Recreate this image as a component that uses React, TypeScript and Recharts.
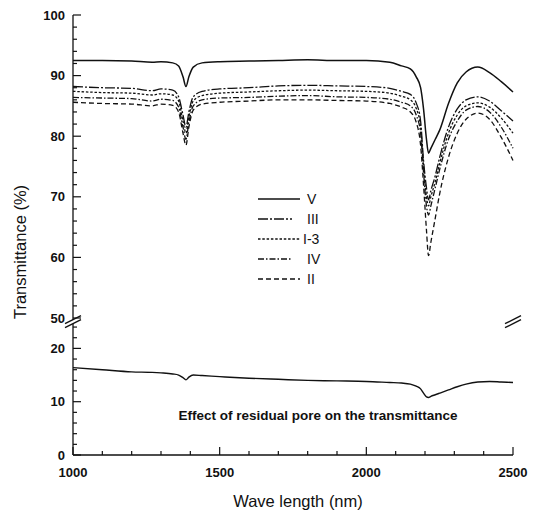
import React from 'react';
import { ComposedChart, Line, XAxis, YAxis, ReferenceDot } from 'recharts';

// ---------- data ----------
const wavelengths = [1000, 1100, 1200, 1270, 1300, 1340, 1360, 1375, 1385, 1395, 1410, 1440, 1500, 1600, 1700, 1800, 1900, 2000, 2080, 2120, 2150, 2170, 2185, 2195, 2205, 2212, 2220, 2235, 2250, 2280, 2310, 2340, 2380, 2420, 2460, 2500];

const seriesV = [92.5, 92.5, 92.4, 92.2, 92.3, 92.1, 91.6, 89.8, 88.2, 89.8, 91.4, 92.1, 92.3, 92.4, 92.5, 92.6, 92.5, 92.5, 92.2, 91.6, 91.1, 89.8, 88.0, 84.5, 79.5, 77.2, 78.0, 79.5, 81.0, 85.4, 88.8, 90.6, 91.4, 90.5, 89.0, 87.3];
const seriesIII = [88.2, 88.0, 87.9, 87.5, 87.8, 87.6, 86.5, 83.5, 81.5, 84.0, 86.5, 87.4, 87.8, 88.0, 88.3, 88.4, 88.3, 88.2, 87.9, 87.4, 86.9, 85.5, 82.5, 76.0, 71.5, 69.5, 71.0, 73.5, 76.5, 81.5, 84.5, 86.0, 86.5, 85.8, 84.2, 82.5];
const seriesI3 = [87.4, 87.2, 87.1, 86.8, 87.0, 86.8, 85.8, 82.5, 80.5, 83.2, 85.8, 86.7, 87.1, 87.3, 87.5, 87.6, 87.5, 87.4, 87.1, 86.6, 86.0, 84.6, 81.5, 75.0, 70.0, 68.5, 70.0, 72.5, 75.5, 80.5, 83.5, 85.0, 85.5, 84.8, 83.0, 80.5];
const seriesIV = [86.4, 86.3, 86.2, 85.8, 86.1, 85.9, 84.8, 81.5, 79.5, 82.3, 85.0, 86.0, 86.3, 86.4, 86.6, 86.7, 86.5, 86.4, 86.1, 85.6, 85.0, 83.5, 80.5, 74.0, 68.5, 67.0, 68.5, 71.5, 74.5, 79.5, 82.5, 84.3, 84.9, 84.0, 81.5, 78.0];
const seriesII = [85.6, 85.4, 85.3, 85.0, 85.3, 85.1, 84.0, 80.5, 78.5, 81.5, 84.3, 85.3, 85.6, 85.8, 86.0, 86.0, 85.9, 85.8, 85.4, 84.8, 84.0, 82.3, 78.5, 72.0, 64.5, 60.3, 62.5, 66.5, 70.5, 76.5, 80.5, 82.8, 83.8, 82.8, 79.8, 76.0];
const seriesPore = [16.4, 16.0, 15.6, 15.5, 15.4, 15.2, 15.0, 14.5, 14.1, 14.6, 15.0, 14.9, 14.7, 14.4, 14.2, 14.0, 13.9, 13.8, 13.6, 13.5, 13.3, 12.9, 12.4, 11.6, 10.9, 10.8, 11.0, 11.3, 11.6, 12.2, 12.8, 13.3, 13.7, 13.8, 13.7, 13.6];

const xTicks = [1000, 1100, 1200, 1300, 1400, 1500, 1600, 1700, 1800, 1900, 2000, 2100, 2200, 2300, 2400, 2500];
const xLabeled = [1000, 1500, 2000, 2500];
const yLowerLabels = [0, 10, 20];
const yUpperLabels = [50, 60, 70, 80, 90, 100];

const legendItems = [
  { key: 'V', label: 'V' },
  { key: 'III', label: 'III' },
  { key: 'I3', label: 'I-3' },
  { key: 'IV', label: 'IV' },
  { key: 'II', label: 'II' },
];

const annotationText = 'Effect of residual pore on the transmittance';

// ---------- broken axis transform ----------
const LOWER_TOP = 25.7;   // lower segment 0..25.7
const UPPER_BOTTOM = 50;  // upper segment 50..100
const UPPER_TOP = 100;
const LOWER_SPAN = 137;   // axis units given to lower segment
const UPPER_SPAN = 303;   // axis units given to upper segment
const toAxis = (v: number) =>
  v <= LOWER_TOP
    ? (v / LOWER_TOP) * LOWER_SPAN
    : LOWER_SPAN + ((v - UPPER_BOTTOM) / (UPPER_TOP - UPPER_BOTTOM)) * UPPER_SPAN;
const AXIS_MAX = LOWER_SPAN + UPPER_SPAN;

const data = wavelengths.map((wl, i) => ({
  wl,
  V: toAxis(seriesV[i]),
  III: toAxis(seriesIII[i]),
  I3: toAxis(seriesI3[i]),
  IV: toAxis(seriesIV[i]),
  II: toAxis(seriesII[i]),
  pore: toAxis(seriesPore[i]),
}));

// y ticks: majors + minors every 2 units
const yTickInfo: { t: number; label: string | null }[] = [];
for (let v = 0; v <= 24; v += 2) {
  yTickInfo.push({ t: toAxis(v), label: yLowerLabels.includes(v) ? String(v) : null });
}
for (let v = 50; v <= 100; v += 2) {
  yTickInfo.push({ t: toAxis(v), label: yUpperLabels.includes(v) ? String(v) : null });
}
const yTicks = yTickInfo.map((d) => d.t);
const yLabelFor = (t: number) => {
  const f = yTickInfo.find((d) => Math.abs(d.t - t) < 1e-6);
  return f ? f.label : null;
};

const FONT = '"Liberation Sans", Arial, Helvetica, sans-serif';
const INK = '#111';

const dashes: Record<string, string | undefined> = {
  V: undefined,
  III: '10 2 2 2',
  I3: '2.5 1.8',
  IV: '6 2 1.5 2',
  II: '5 3',
};

const LeftTick = (props: any) => {
  const { x, y, payload } = props;
  const label = yLabelFor(payload.value);
  const len = label !== null ? 8 : 4;
  return (
    <g>
      <line x1={x} x2={x + len} y1={y} y2={y} stroke={INK} strokeWidth={1.2} />
      {label !== null && (
        <text x={x - 8} y={y + 4.5} textAnchor="end" fontSize={13} fontWeight="bold" fontFamily={FONT} fill={INK}>
          {label}
        </text>
      )}
    </g>
  );
};

const RightTick = (props: any) => {
  const { x, y, payload } = props;
  const label = yLabelFor(payload.value);
  const len = label !== null ? 8 : 4;
  return <line x1={x} x2={x - len} y1={y} y2={y} stroke={INK} strokeWidth={1.2} />;
};

const BottomTick = (props: any) => {
  const { x, y, payload } = props;
  const major = xLabeled.includes(payload.value);
  const len = major ? 8 : 4;
  return (
    <g>
      <line x1={x} x2={x} y1={y} y2={y - len} stroke={INK} strokeWidth={1.2} />
      {major && (
        <text x={x} y={y + 22} textAnchor="middle" fontSize={13} fontWeight="bold" fontFamily={FONT} fill={INK}>
          {payload.value}
        </text>
      )}
    </g>
  );
};

const TopTick = (props: any) => {
  const { x, y, payload } = props;
  const major = xLabeled.includes(payload.value);
  const len = major ? 7 : 4;
  return <line x1={x} x2={x} y1={y} y2={y + len} stroke={INK} strokeWidth={1.2} />;
};

const BreakMark = (props: any) => {
  const { cx, cy } = props;
  if (cx == null || cy == null) return null;
  return (
    <g>
      <polygon
        points={`${cx - 8},${cy + 2} ${cx + 8},${cy - 6} ${cx + 8},${cy - 2} ${cx - 8},${cy + 6}`}
        fill="#fff"
        stroke="none"
      />
      <line x1={cx - 8} y1={cy + 2} x2={cx + 8} y2={cy - 6} stroke={INK} strokeWidth={1.4} />
      <line x1={cx - 8} y1={cy + 6} x2={cx + 8} y2={cy - 2} stroke={INK} strokeWidth={1.4} />
    </g>
  );
};

const AnnotationShape = (props: any) => {
  const { cx, cy } = props;
  if (cx == null || cy == null) return null;
  return (
    <text x={cx} y={cy + 5} textAnchor="middle" fontSize={13.5} fontWeight="bold" fontFamily={FONT} fill={INK}>
      {annotationText}
    </text>
  );
};

// legend drawn inside the chart svg, anchored at the plot's top-left corner
const LegendShape = (props: any) => {
  const { cx, cy } = props;
  if (cx == null || cy == null) return null;
  const left = cx + 185;
  const top = cy + 184;
  return (
    <g>
      {legendItems.map((it, i) => {
        const y = top + i * 20;
        return (
          <g key={it.key}>
            <line
              x1={left}
              x2={left + (it.key === 'III' || it.key === 'IV' ? 34 : 42)}
              y1={y}
              y2={y}
              stroke={INK}
              strokeWidth={1.4}
              strokeDasharray={dashes[it.key]}
            />
            <text x={left + (it.key === 'I3' ? 45 : 49)} y={y + 5} fontSize={14} fontFamily={FONT} fill={INK}>
              {it.label}
            </text>
          </g>
        );
      })}
    </g>
  );
};

const YTitle = (props: any) => {
  const { viewBox } = props;
  const cx = 12;
  const cy = viewBox.y + viewBox.height / 2 + 17;
  return (
    <text x={cx} y={cy} transform={`rotate(-90, ${cx}, ${cy})`} textAnchor="middle" dominantBaseline="central" fontSize={16.5} fontFamily={FONT} fill={INK}>
      Transmittance (%)
    </text>
  );
};

const XTitle = (props: any) => {
  const { viewBox } = props;
  const cx = viewBox.x + viewBox.width / 2 + 5;
  return (
    <text x={cx} y={499} textAnchor="middle" fontSize={16.5} fontFamily={FONT} fill={INK}>
      Wave length (nm)
    </text>
  );
};

export default function App() {
  const seriesKeys = ['V', 'III', 'I3', 'IV', 'II'];
  return (
    <div style={{ width: 530, height: 502, background: '#fff' }}>
      <ComposedChart width={530} height={502} data={data} margin={{ top: 7, right: 25, bottom: 0, left: 0 }}>
        <XAxis
          xAxisId="bottom"
          dataKey="wl"
          type="number"
          domain={[1000, 2500]}
          ticks={xTicks}
          interval={0}
          tickSize={0}
          tickMargin={0}
          tickLine={false}
          tick={<BottomTick />}
          axisLine={{ stroke: INK, strokeWidth: 1.3 }}
          height={55}
          label={<XTitle />}
        />
        <XAxis
          xAxisId="top"
          orientation="top"
          dataKey="wl"
          type="number"
          domain={[1000, 2500]}
          ticks={xTicks}
          interval={0}
          tickSize={0}
          tickMargin={0}
          tickLine={false}
          tick={<TopTick />}
          axisLine={{ stroke: INK, strokeWidth: 1.3 }}
          height={0}
        />
        <YAxis
          yAxisId="left"
          type="number"
          domain={[0, AXIS_MAX]}
          ticks={yTicks}
          interval={0}
          tickSize={0}
          tickMargin={0}
          tickLine={false}
          tick={<LeftTick />}
          axisLine={{ stroke: INK, strokeWidth: 1.3 }}
          width={65}
          label={<YTitle />}
        />
        <YAxis
          yAxisId="right"
          orientation="right"
          type="number"
          domain={[0, AXIS_MAX]}
          ticks={yTicks}
          interval={0}
          tickSize={0}
          tickMargin={0}
          tickLine={false}
          tick={<RightTick />}
          axisLine={{ stroke: INK, strokeWidth: 1.3 }}
          width={0}
        />
        {seriesKeys.map((k) => (
          <Line
            key={k}
            xAxisId="bottom"
            yAxisId="left"
            dataKey={k}
            type="monotone"
            stroke={INK}
            strokeWidth={k === 'V' ? 1.5 : 1.3}
            strokeDasharray={dashes[k]}
            dot={false}
            activeDot={false}
            isAnimationActive={false}
          />
        ))}
        <Line
          xAxisId="bottom"
          yAxisId="left"
          dataKey="pore"
          type="monotone"
          stroke={INK}
          strokeWidth={1.4}
          dot={false}
          activeDot={false}
          isAnimationActive={false}
        />
        <ReferenceDot xAxisId="bottom" yAxisId="left" x={1000} y={toAxis(25)} ifOverflow="visible" shape={<BreakMark />} />
        <ReferenceDot xAxisId="bottom" yAxisId="left" x={2500} y={toAxis(25)} ifOverflow="visible" shape={<BreakMark />} />
        <ReferenceDot xAxisId="bottom" yAxisId="left" x={1835} y={toAxis(7.5)} ifOverflow="visible" shape={<AnnotationShape />} />
        <ReferenceDot xAxisId="bottom" yAxisId="left" x={1000} y={AXIS_MAX} ifOverflow="visible" shape={<LegendShape />} />
      </ComposedChart>
    </div>
  );
}
